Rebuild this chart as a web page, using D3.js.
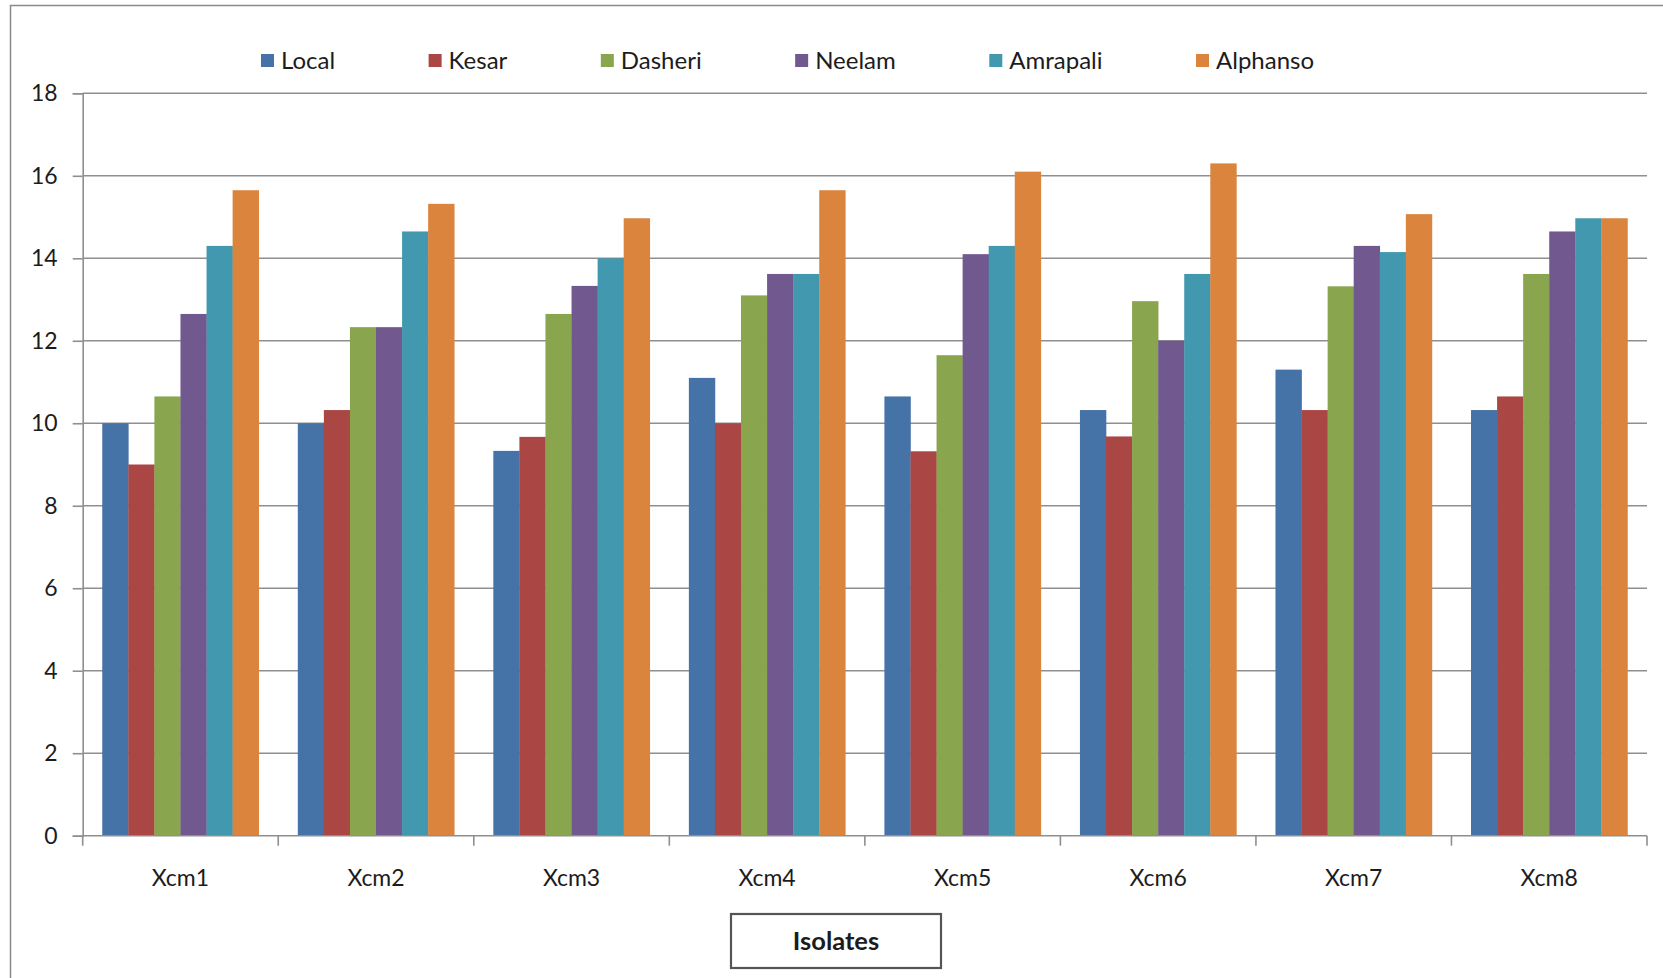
<!DOCTYPE html>
<html>
<head>
<meta charset="utf-8">
<script src="https://cdn.jsdelivr.net/npm/d3@7/dist/d3.min.js"></script>
<style>
  html, body { margin: 0; padding: 0; background: #fff; }
  svg { display: block; }
  text { font-family: Lato, "Open Sans", sans-serif; fill: #1c1c1c; }
</style>
</head>
<body>
<svg id="chart" width="1663" height="978"></svg>
<script>
// Isolates on the x axis, one bar per mango variety
const categories = ["Xcm1", "Xcm2", "Xcm3", "Xcm4", "Xcm5", "Xcm6", "Xcm7", "Xcm8"];
const seriesNames = ["Local", "Kesar", "Dasheri", "Neelam", "Amrapali", "Alphanso"];

const local    = [10.0, 10.0, 9.33, 11.1, 10.65, 10.32, 11.3, 10.32];
const kesar    = [9.0, 10.32, 9.67, 10.0, 9.32, 9.68, 10.32, 10.65];
const dasheri  = [10.65, 12.33, 12.65, 13.1, 11.65, 12.96, 13.32, 13.62];
const neelam   = [12.65, 12.33, 13.33, 13.62, 14.1, 12.0, 14.3, 14.65];
const amrapali = [14.3, 14.65, 14.0, 13.62, 14.3, 13.62, 14.15, 14.97];
const alphanso = [15.65, 15.32, 14.97, 15.65, 16.1, 16.3, 15.07, 14.97];

const yTicks = [0, 2, 4, 6, 8, 10, 12, 14, 16, 18];
const axisTitle = "Isolates";

const seriesValues = [local, kesar, dasheri, neelam, amrapali, alphanso];
const colors = ["#4572A7", "#AA4643", "#89A54E", "#71588F", "#4198AF", "#DB843D"];

const svg = d3.select("#chart");
const W = 1663, H = 978;
const plot = { left: 82.7, right: 1647, top: 93.3, bottom: 835.7 };

// outer chart frame
svg.append("rect")
  .attr("x", 10.5).attr("y", 5.5)
  .attr("width", W + 10).attr("height", H + 10)
  .attr("fill", "none").attr("stroke", "#8a8a8a").attr("stroke-width", 1.5);

const x = d3.scaleBand().domain(categories).range([plot.left, plot.right]).padding(0);
const y = d3.scaleLinear().domain([0, 18]).range([plot.bottom, plot.top]);

// Excel-style gap width of 150% between clusters
const gapRatio = 1.5;
const barW = x.bandwidth() / (seriesNames.length + gapRatio);
const xs = d3.scaleBand().domain(seriesNames)
  .range([barW * gapRatio / 2, x.bandwidth() - barW * gapRatio / 2]).padding(0);

// horizontal gridlines
svg.append("g")
  .selectAll("line")
  .data(yTicks.filter(t => t > 0))
  .join("line")
  .attr("x1", plot.left).attr("x2", plot.right)
  .attr("y1", d => y(d)).attr("y2", d => y(d))
  .attr("stroke", "#8f8f8f").attr("stroke-width", 1.6);

// bars
const rows = categories.map((c, i) => ({
  cat: c,
  vals: seriesNames.map((s, j) => ({ series: s, value: seriesValues[j][i], color: colors[j] }))
}));

svg.append("g")
  .selectAll("g")
  .data(rows)
  .join("g")
  .attr("transform", d => `translate(${x(d.cat)},0)`)
  .selectAll("rect")
  .data(d => d.vals)
  .join("rect")
  .attr("x", d => xs(d.series))
  .attr("width", xs.bandwidth() + 0.3)
  .attr("y", d => y(d.value))
  .attr("height", d => y(0) - y(d.value))
  .attr("fill", d => d.color);

// y axis
const yAxis = svg.append("g")
  .attr("transform", `translate(${plot.left},0)`)
  .call(d3.axisLeft(y).tickValues(yTicks).tickSize(10).tickPadding(15).tickFormat(d3.format("d")));
yAxis.select(".domain").attr("stroke", "#8f8f8f").attr("stroke-width", 1.6);
yAxis.selectAll(".tick line").attr("stroke", "#8f8f8f").attr("stroke-width", 1.6);
yAxis.selectAll(".tick text")
  .style("font-family", "Lato, sans-serif").style("font-size", "23px").attr("fill", "#1c1c1c");

// x axis: baseline and category boundary ticks
svg.append("line")
  .attr("x1", plot.left).attr("x2", plot.right)
  .attr("y1", y(0)).attr("y2", y(0))
  .attr("stroke", "#8f8f8f").attr("stroke-width", 1.6);

const bounds = categories.map(c => x(c)).concat([x(categories[categories.length - 1]) + x.bandwidth()]);
svg.append("g")
  .selectAll("line")
  .data(bounds)
  .join("line")
  .attr("x1", d => d).attr("x2", d => d)
  .attr("y1", y(0)).attr("y2", y(0) + 10)
  .attr("stroke", "#8f8f8f").attr("stroke-width", 1.6);

const xAxis = svg.append("g")
  .attr("transform", `translate(0,${y(0)})`)
  .call(d3.axisBottom(x).tickSize(0).tickPadding(34));
xAxis.select(".domain").remove();
xAxis.selectAll(".tick text")
  .style("font-family", "Lato, sans-serif").style("font-size", "23px").attr("fill", "#1c1c1c");

// axis title in a box
const titleBox = { x: 731, y: 914, w: 210, h: 54 };
svg.append("rect")
  .attr("x", titleBox.x).attr("y", titleBox.y)
  .attr("width", titleBox.w).attr("height", titleBox.h)
  .attr("fill", "#fff").attr("stroke", "#555").attr("stroke-width", 2.2);
svg.append("text")
  .attr("x", titleBox.x + titleBox.w / 2).attr("y", titleBox.y + titleBox.h / 2 + 8.5)
  .attr("text-anchor", "middle")
  .style("font-size", "25.5px").style("font-weight", "bold")
  .text(axisTitle);

// legend across the top
const legend = svg.append("g").attr("transform", "translate(261,60.5)");
let lx = 0;
seriesNames.forEach((name, i) => {
  const g = legend.append("g").attr("transform", `translate(${lx},0)`);
  g.append("rect").attr("x", 0).attr("y", -6.5).attr("width", 13).attr("height", 13).attr("fill", colors[i]);
  const t = g.append("text").attr("x", 20).attr("y", 8.5).style("font-size", "24px").text(name);
  lx += 20 + t.node().getComputedTextLength() + 93.5;
});
</script>
</body>
</html>
